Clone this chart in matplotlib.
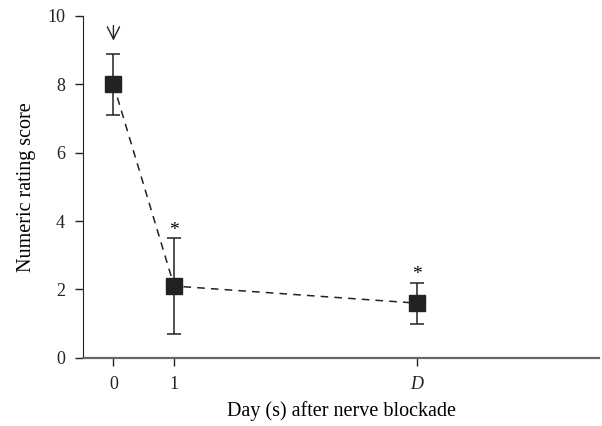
import numpy as np
import matplotlib.pyplot as plt

plt.rcParams['font.family'] = ['Liberation Serif', 'DejaVu Serif']

# Dati
days = [0, 1, 5]
day_labels = ['0', '1', 'D']
score = [8.0, 2.1, 1.6]
err_up = [0.9, 1.4, 0.6]
err_down = [0.9, 1.4, 0.6]
marks = ['', '*', '*']

fig = plt.figure(figsize=(6.02, 4.26), dpi=100)
ax = fig.add_axes([0.138, 0.16, 0.857, 0.8025])

ax.errorbar(days, score, yerr=[err_down, err_up], fmt='s', color='#222222',
            markersize=11, ecolor='#222222', elinewidth=1.1, capsize=5,
            capthick=1.1, zorder=3)
ax.plot(days, score, linestyle=(0, (5, 4)), color='#222222', linewidth=1.1,
        zorder=2)

# Asterischi sopra le barre
for x, y, e, m in zip(days, score, err_up, marks):
    if m:
        ax.text(x, y + e - 0.02, m, ha='center', va='bottom', fontsize=14)

# Freccia sopra il primo punto
ax.annotate('', xy=(days[0], 9.28), xytext=(days[0], 9.72),
            arrowprops=dict(arrowstyle='->', color='#222222', lw=1.0,
                            mutation_scale=22, shrinkA=0, shrinkB=0))

ax.set_xlim(-0.5, 8)
ax.set_ylim(0, 10)
ax.set_xticks(days)
ax.set_xticklabels(day_labels)
ax.get_xticklabels()[2].set_fontstyle('italic')
ax.set_yticks(np.arange(0, 11, 2))
ax.tick_params(direction='out', length=6, width=1.0, labelsize=13,
               colors='#222222', pad=7)
ax.spines['top'].set_visible(False)
ax.spines['right'].set_visible(False)
ax.spines['left'].set_color('#222222')
ax.spines['bottom'].set_color('#666666')
ax.spines['bottom'].set_linewidth(1.6)
ax.set_xlabel('Day (s) after nerve blockade', fontsize=14.5, labelpad=6)
ax.set_ylabel('Numeric rating score', fontsize=14.5, labelpad=8)

fig.savefig('out.png', dpi=100)
